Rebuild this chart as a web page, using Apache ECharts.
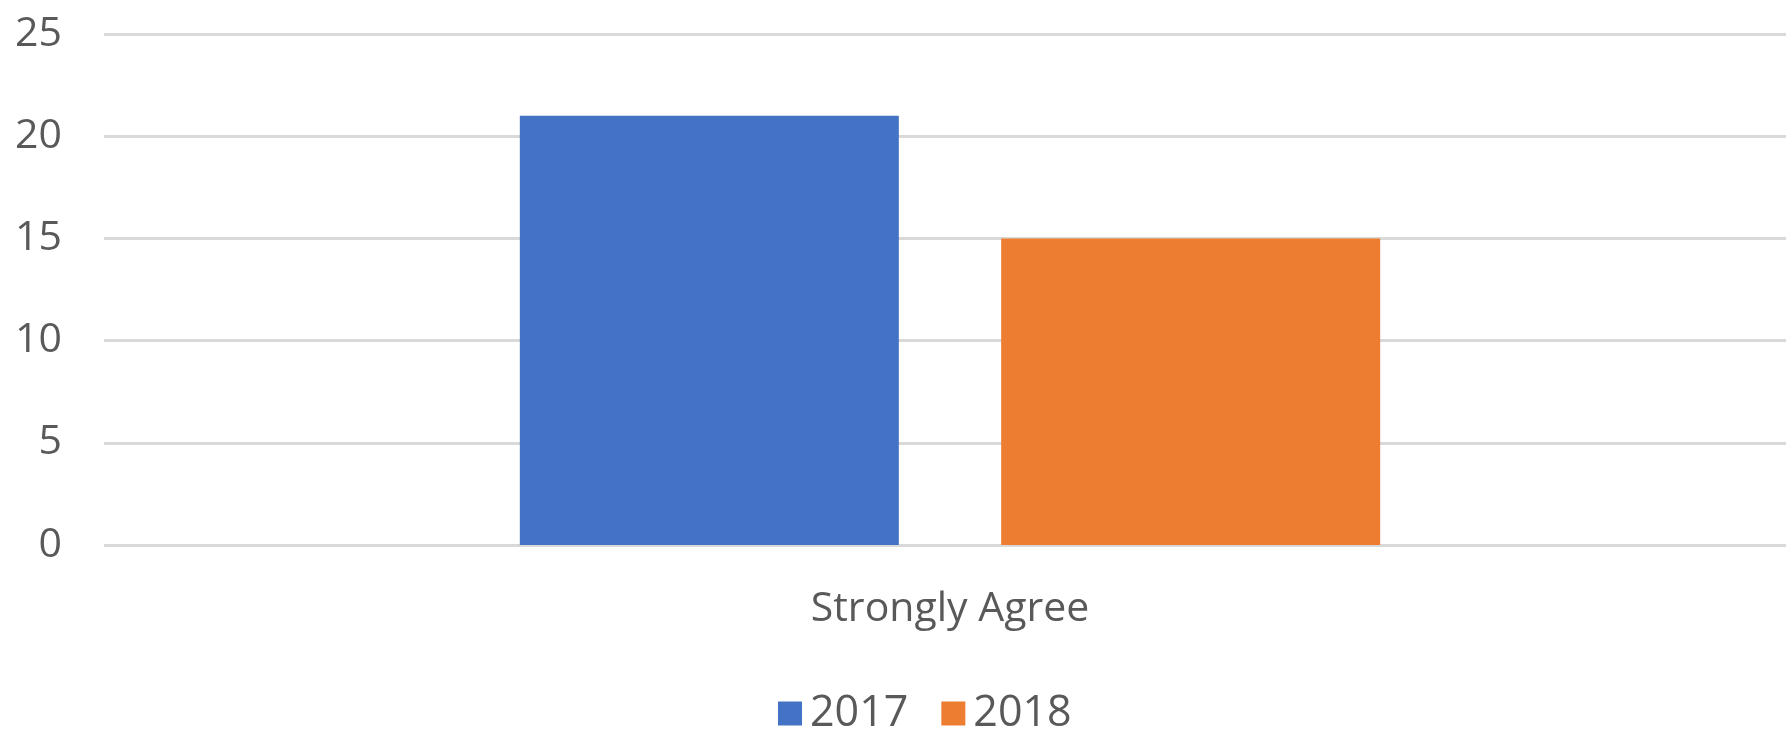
<!DOCTYPE html>
<html>
<head>
<meta charset="utf-8">
<script src="https://cdn.jsdelivr.net/npm/echarts@6/dist/echarts.min.js"></script>
<style>
html,body{margin:0;padding:0;background:#fff;overflow:hidden;}
#chart{width:1796px;height:731px;}
</style>
</head>
<body>
<div id="chart"></div>
<script>
const categories = ["Strongly Agree"];
const seriesNames = ["2017", "2018"];
const values2017 = [21];
const values2018 = [15];
const yTicks = [0, 5, 10, 15, 20, 25];

const chart = echarts.init(document.getElementById('chart'), null, {renderer: 'canvas'});
const textColor = '#595959';
const font = '"Open Sans", Lato, sans-serif';
chart.setOption({
  animation: false,
  backgroundColor: '#ffffff',
  grid: {left: 104, right: 0, top: 34, bottom: 186, containLabel: false},
  legend: {
    data: seriesNames,
    top: 692,
    left: 778,
    padding: 0,
    icon: 'rect',
    itemWidth: 24,
    itemHeight: 24,
    itemGap: 33,
    textStyle: {color: textColor, fontSize: 43, fontFamily: font, padding: [0, 0, 0, 3]}
  },
  xAxis: {
    type: 'category',
    data: categories,
    axisLine: {show: false},
    axisTick: {show: false},
    axisLabel: {color: textColor, fontSize: 41, fontFamily: font, margin: 44}
  },
  yAxis: {
    type: 'value',
    min: yTicks[0],
    max: yTicks[yTicks.length - 1],
    interval: 5,
    axisLine: {show: false},
    axisTick: {show: false},
    axisLabel: {color: textColor, fontSize: 41, fontFamily: font, margin: 42},
    splitLine: {lineStyle: {color: '#d9d9d9', width: 3}}
  },
  series: [
    {name: seriesNames[0], type: 'bar', data: values2017, barWidth: '22.4%', barGap: '27%', itemStyle: {color: '#4472C4'}},
    {name: seriesNames[1], type: 'bar', data: values2018, barWidth: '22.4%', barGap: '27%', itemStyle: {color: '#ED7D31'}}
  ]
});
</script>
</body>
</html>
